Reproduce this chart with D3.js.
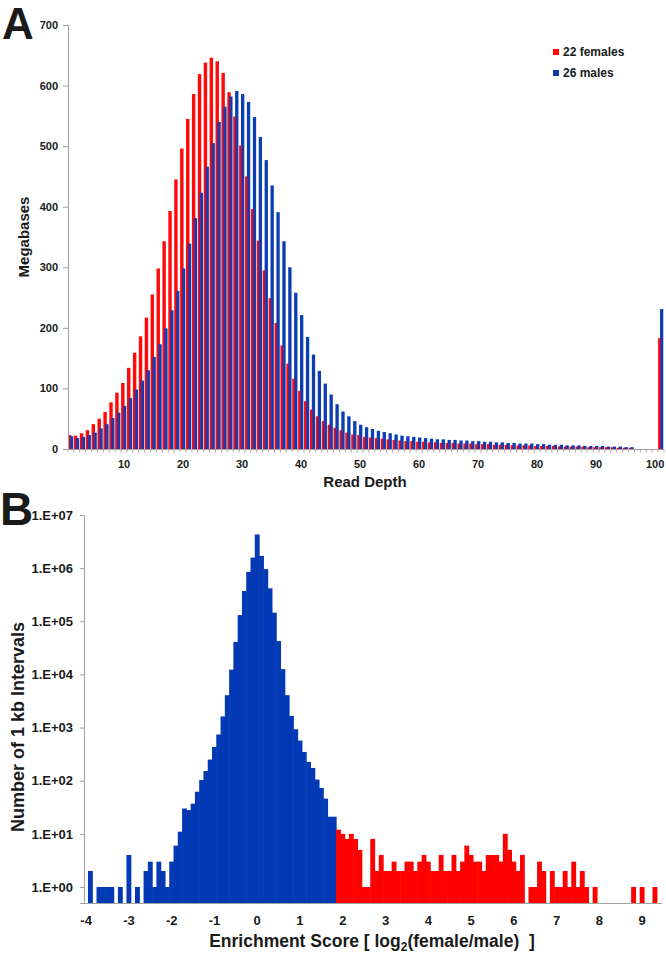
<!DOCTYPE html>
<html><head><meta charset="utf-8">
<script src="https://cdn.jsdelivr.net/npm/d3@7"></script>
<style>
body{margin:0;background:#fff}
svg{display:block}
text{font-family:"Liberation Sans",Arial,Helvetica,sans-serif;font-weight:bold;fill:#1a1a1a}
</style>
</head><body>
<svg id="chart" width="666" height="956"></svg>
<script>
// ---------- Panel A data ----------
const depthCategories = d3.range(1, 102); // 101 = ">100" bin
const femaleMb = [
  23,22,26,31,41,50,61,77,93,109,
  134,159,186,217,255,298,343,393,445,496,
  545,586,619,638,646,640,621,589,549,501,
  450,396,344,295,249,208,171,141,116,96,
  79,65,54,46,40,35,31,27,24,23,
  20,19,18,17,16,15,14,13,13,12,
  12,11,11,10,10,10,9,9,9,8,
  8,8,7,7,7,6,6,6,6,5,
  5,5,5,4,4,4,4,4,3,3,
  3,3,3,2,2,2,0,0,0,0,
  183];
const maleMb = [
  21,18,20,23,27,34,41,51,60,71,
  84,98,113,130,152,173,199,229,261,298,
  339,381,423,466,505,540,565,582,591,586,
  573,548,515,477,435,391,343,300,258,221,
  185,156,129,108,90,74,62,54,46,40,
  36,33,30,28,26,24,22,21,20,19,
  18,17,16,16,15,15,14,14,13,13,
  12,12,11,11,10,10,9,9,9,8,
  8,7,7,7,6,6,6,5,5,5,
  5,4,4,4,3,3,0,0,0,0,
  231];
const depthTicks = [10,20,30,40,50,60,70,80,90,100];
const megabaseTicks = [0,100,200,300,400,500,600,700];
const legendLabels = ["22 females","26 males"];

// ---------- Panel B data ----------
const enrichCategories = d3.range(-40, 95).map(i => (i / 10).toFixed(1)); // -4.0 .. 9.4
const baseIntervals = [ // bins -4.0 .. 1.8 (blue)
  0,2,0,1,1,1,1,0,1,0,
  4,0,1,0,2,3,1,3,2,1,
  3,6,11,30,28,37,62,103,152,250,
  433,740,1620,4070,12300,41000,131000,373000,850000,1580000,
  4300000,1700000,960000,417000,145000,42500,12600,4070,1660,930,
  570,348,226,174,105,73,46,21,21];
const femaleEnrichedIntervals = [ // bins 1.9 .. 9.4 (red)
  12,10,8,10,8,5,1,1,8,2,
  4,2,2,3,2,2,3,3,2,3,
  4,3,2,2,4,2,2,4,2,3,
  6,4,3,3,2,4,4,4,3,10,
  5,3,2,4,0,1,1,3,2,0,
  2,1,1,2,1,3,1,2,1,0,
  1,0,0,0,0,0,0,0,0,1,
  0,1,0,0,1,0];
const enrichTicks = [-4,-3,-2,-1,0,1,2,3,4,5,6,7,8,9];
const logTicks = [1,10,100,1000,10000,100000,1000000,10000000];

// ---------- colours ----------
const RED = "#ff0a0a", BLUE = "#0b3db3", PURPLE = "#512d8f", AXIS = "#a0a0a0";
const BLUE_B = "#0339b4", RED_B = "#ff0000";

const svg = d3.select("#chart");

// ================= Panel A =================
const xA = d3.scaleBand().domain(depthCategories).range([68, 664]).padding(0);
const yA = d3.scaleLinear().domain([0, 700]).range([449, 25]);
const bw = xA.bandwidth();
const gA = svg.append("g");

const tableA = depthCategories.map((d, i) => ({d, f: femaleMb[i], m: maleMb[i]}));

gA.selectAll("rect.fem").data(tableA).join("rect")
  .attr("x", r => xA(r.d)).attr("width", bw * 0.58)
  .attr("y", r => yA(r.f)).attr("height", r => yA(0) - yA(r.f))
  .attr("fill", RED);
gA.selectAll("rect.mal").data(tableA).join("rect")
  .attr("x", r => xA(r.d) + bw * 0.32).attr("width", bw * 0.56)
  .attr("y", r => yA(r.m)).attr("height", r => yA(0) - yA(r.m))
  .attr("fill", BLUE);
gA.selectAll("rect.ovl").data(tableA).join("rect")
  .attr("x", r => xA(r.d) + bw * 0.32).attr("width", bw * 0.26)
  .attr("y", r => yA(Math.min(r.f, r.m))).attr("height", r => yA(0) - yA(Math.min(r.f, r.m)))
  .attr("fill", PURPLE);

// y axis
const yAxA = gA.append("g").attr("transform", "translate(68,0)")
  .call(d3.axisLeft(yA).tickValues(megabaseTicks).tickSize(5).tickPadding(5));
yAxA.selectAll("path,line").attr("stroke", AXIS);
yAxA.selectAll("text").style("font-size", "11px").attr("fill", "#1a1a1a");

// x axis
gA.append("line").attr("x1", 68).attr("x2", 664).attr("y1", 449.5).attr("y2", 449.5).attr("stroke", AXIS);
gA.selectAll("line.ct").data(depthCategories.concat([null])).join("line")
  .attr("x1", d => d === null ? 664 : xA(d)).attr("x2", d => d === null ? 664 : xA(d))
  .attr("y1", 449.5).attr("y2", 452.5).attr("stroke", "#c8a0a8");
gA.selectAll("text.xt").data(depthTicks).join("text")
  .attr("x", d => xA(d) + bw / 2).attr("y", 468)
  .attr("text-anchor", "middle").style("font-size", "11px").text(d => d);

gA.append("text").attr("x", 365).attr("y", 487).attr("text-anchor", "middle")
  .style("font-size", "15px").text("Read Depth");
gA.append("text").attr("transform", "translate(29,237) rotate(-90)").attr("text-anchor", "middle")
  .style("font-size", "15px").text("Megabases");
gA.append("text").attr("x", 2).attr("y", 39).style("font-size", "44px").text("A");

// legend
const legA = gA.append("g");
[RED, BLUE].forEach((c, i) => {
  legA.append("rect").attr("x", 553).attr("y", 49 + i * 21).attr("width", 6).attr("height", 6).attr("fill", c);
  legA.append("text").attr("x", 563).attr("y", 55.5 + i * 21).style("font-size", "12px").text(legendLabels[i]);
});

// ================= Panel B =================
const xB = d3.scaleBand().domain(enrichCategories).range([84, 84 + 135 * 4.277]).padding(0);
const yB = d3.scaleLog().domain([0.5, 1e7]).range([903, 515]);
const bwB = xB.bandwidth();
const gB = svg.append("g");

const tableB = enrichCategories.map((k, i) => ({
  k,
  v: i < baseIntervals.length ? baseIntervals[i] : femaleEnrichedIntervals[i - baseIntervals.length],
  c: i < baseIntervals.length ? BLUE_B : RED_B
}));

gB.selectAll("rect.b").data(tableB.filter(r => r.v > 0)).join("rect")
  .attr("x", r => xB(r.k) - 0.3).attr("width", bwB + 0.6)
  .attr("y", r => yB(r.v)).attr("height", r => yB(0.5) - yB(r.v))
  .attr("fill", r => r.c);

const yAxB = gB.append("g").attr("transform", "translate(84,0)")
  .call(d3.axisLeft(yB).tickValues(logTicks).tickSize(4).tickPadding(7)
    .tickFormat(d => "1.E+" + String(Math.round(Math.log10(d))).padStart(2, "0")));
yAxB.selectAll("path,line").attr("stroke", AXIS);
yAxB.selectAll("text").style("font-size", "13px").attr("fill", "#1a1a1a");

gB.append("line").attr("x1", 84).attr("x2", 662).attr("y1", 903.5).attr("y2", 903.5).attr("stroke", AXIS);
gB.selectAll("text.xt").data(enrichTicks).join("text")
  .attr("x", d => xB(d.toFixed(1)) + bwB / 2).attr("y", 924.5)
  .attr("text-anchor", "middle").style("font-size", "13px").text(d => d);

const tB = gB.append("text").attr("x", 372).attr("y", 947).attr("text-anchor", "middle")
  .style("font-size", "17.5px").style("white-space", "pre");
tB.append("tspan").text("Enrichment Score [ log");
tB.append("tspan").attr("dy", 4).style("font-size", "12px").text("2");
tB.append("tspan").attr("dy", -4).text("(female/male)  ]");

gB.append("text").attr("transform", "translate(24,727) rotate(-90)").attr("text-anchor", "middle")
  .style("font-size", "18px").text("Number of 1 kb Intervals");
gB.append("text").attr("x", 0).attr("y", 525).style("font-size", "46px").text("B");
</script>
</body></html>
